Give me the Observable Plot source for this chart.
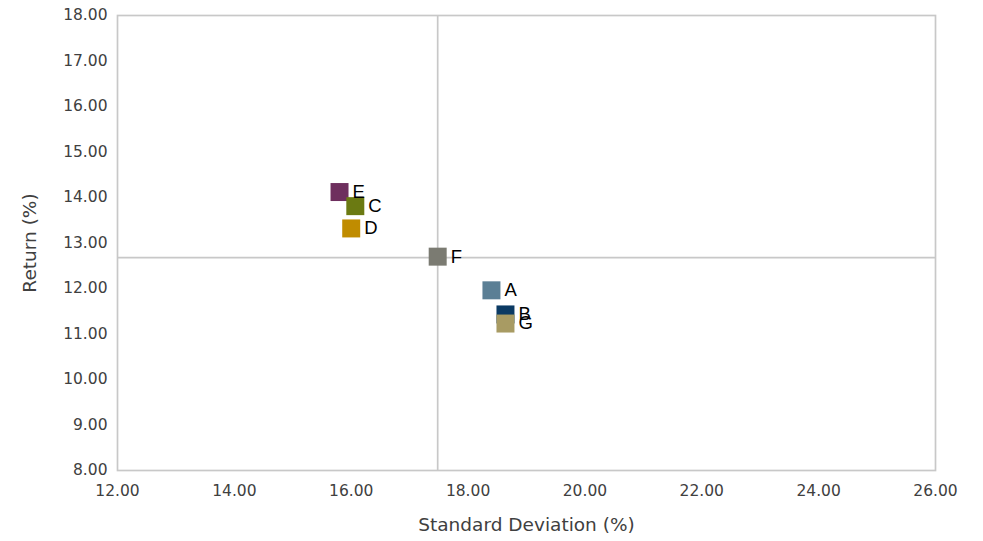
<!DOCTYPE html>
<html>
<head>
<meta charset="utf-8">
<script src="https://cdn.jsdelivr.net/npm/d3@7"></script>
<script src="https://cdn.jsdelivr.net/npm/@observablehq/plot@0.6"></script>
<style>
  html, body { margin: 0; padding: 0; background: #fff; }
  #chart svg { display: block; }
</style>
</head>
<body>
<div id="chart"></div>
<script>
const names = ["A", "E", "C", "D", "F", "B", "G"];
const stdDev = [18.40, 15.80, 16.07, 16.00, 17.48, 18.64, 18.64];
const returns = [11.96, 14.12, 13.81, 13.32, 12.70, 11.43, 11.23];
const colors = ["#5b7f95", "#6e2f5e", "#6b7a12", "#c08c00", "#7b7b72", "#0b3a63", "#a89b63"];
const xTicks = [12, 14, 16, 18, 20, 22, 24, 26];
const yTicks = [8, 9, 10, 11, 12, 13, 14, 15, 16, 17, 18];
const crossX = [17.48];
const crossY = [12.68];

const data = names.map((n, i) => ({name: n, x: stdDev[i], y: returns[i], color: colors[i]}));
const fmt = d => d.toFixed(2);
const font = "'DejaVu Sans', sans-serif";

const chart = Plot.plot({
  width: 983,
  height: 541,
  marginLeft: 117,
  marginRight: 48,
  marginTop: 15,
  marginBottom: 71,
  style: {fontFamily: font, fontSize: "15.5px", color: "#404040", background: "#fff"},
  x: {domain: [12, 26]},
  y: {domain: [8, 18]},
  marks: [
    Plot.frame({stroke: "#c8c8c8", strokeWidth: 1.7}),
    Plot.ruleX(crossX, {stroke: "#c8c8c8", strokeWidth: 1.7}),
    Plot.ruleY(crossY, {stroke: "#c8c8c8", strokeWidth: 1.7}),
    Plot.axisX(xTicks, {tickSize: 0, tickPadding: 14, tickFormat: fmt, fill: "#404040", fontSize: 15.5, label: null}),
    Plot.axisX({label: "Standard Deviation (%)", labelArrow: "none", labelAnchor: "center", labelOffset: 60,
      ticks: [], tickSize: 0, fontSize: 18.5, fill: "#404040"}),
    Plot.axisY(yTicks, {tickSize: 0, tickPadding: 10, tickFormat: fmt, fill: "#404040", fontSize: 15.5, label: null}),
    Plot.axisY({label: "Return (%)", labelArrow: "none", labelAnchor: "center", labelOffset: 95,
      ticks: [], tickSize: 0, fontSize: 18.5, fill: "#404040"}),
    Plot.dot(data, {x: "x", y: "y", fill: d => d.color, symbol: "square", r: 10.15, stroke: "none"}),
    Plot.text(data, {x: "x", y: "y", text: "name", dx: 13, textAnchor: "start", fill: "#000",
      fontSize: 18.5, fontFamily: "'Liberation Sans', Arial, sans-serif"})
  ]
});
document.getElementById("chart").appendChild(chart);
</script>
</body>
</html>
